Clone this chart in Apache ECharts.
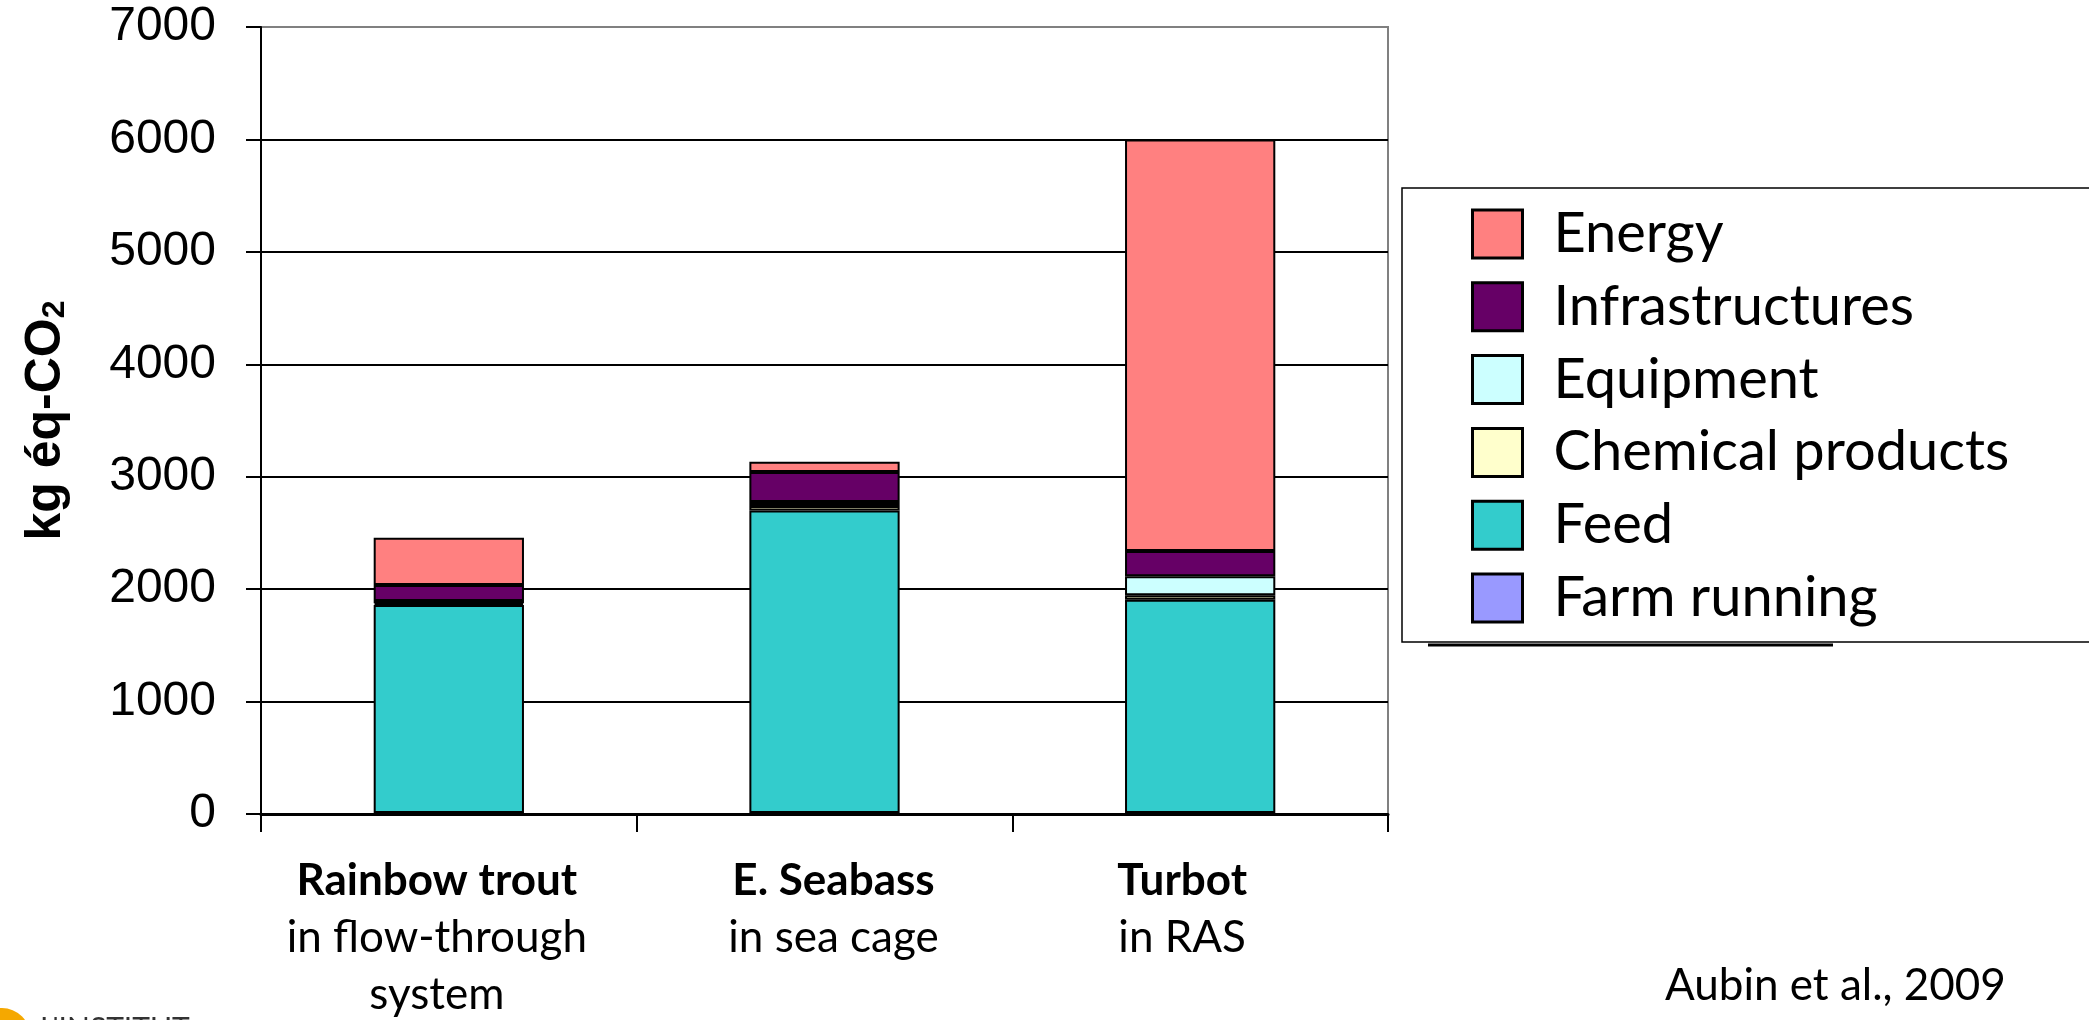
<!DOCTYPE html>
<html>
<head>
<meta charset="utf-8">
<script src="https://cdn.jsdelivr.net/npm/echarts@6/dist/echarts.min.js"></script>
<style>
  html, body { margin: 0; padding: 0; background: #fff; }
  #chart { width: 2089px; height: 1020px; }
</style>
</head>
<body>
<div id="chart"></div>
<script>
// Production systems (bold species name + system on following lines)
const speciesNames = ['Rainbow trout', 'E. Seabass', 'Turbot'];
const systemNames = ['in flow-through\nsystem', 'in sea cage', 'in RAS'];

// Climate change impact contributions, kg eq-CO2 per tonne of fish
const farmRunning   = [10, 10, 10];
const feed          = [1850, 2690, 1895];
const chemicals     = [15, 40, 40];
const equipment     = [20, 35, 170];
const infrastructures = [142, 268, 225];
const energy        = [420, 90, 3660];

const yTicks = { min: 0, max: 7000, step: 1000 };

const seriesDefs = [
  { name: 'Farm running', data: farmRunning, color: '#9999FF' },
  { name: 'Feed', data: feed, color: '#33CCCC' },
  { name: 'Chemical products', data: chemicals, color: '#FFFFCC' },
  { name: 'Equipment', data: equipment, color: '#CCFFFF' },
  { name: 'Infrastructures', data: infrastructures, color: '#660066' },
  { name: 'Energy', data: energy, color: '#FF8080' }
];
const legendOrder = ['Energy', 'Infrastructures', 'Equipment', 'Chemical products', 'Feed', 'Farm running'];

// small per-label horizontal nudges of the category captions
const labelPad = [[0, 24, 0, 0], [0, 0, 0, 18], [0, 36, 0, 0]];

const chart = echarts.init(document.getElementById('chart'));

const calibriLike = 'Lato, "Open Sans", sans-serif';
const arialLike = '"Liberation Sans", Arial, sans-serif';

chart.setOption({
  backgroundColor: '#fff',
  animation: false,
  grid: {
    left: 261, right: 701, top: 27, bottom: 206,
    show: true, borderColor: '#808080', borderWidth: 2, backgroundColor: 'transparent'
  },
  legend: {
    data: legendOrder,
    orient: 'vertical',
    left: 1471, top: 206,
    padding: 0,
    itemWidth: 50, itemHeight: 48, itemGap: 16.8,
    icon: 'rect',
    itemStyle: { borderColor: '#000', borderWidth: 3 },
    textStyle: { fontFamily: calibriLike, fontSize: 56, color: '#000', lineHeight: 48, padding: [0, 0, 0, 26] },
    selectedMode: false
  },
  xAxis: {
    type: 'category',
    data: speciesNames.map((s, i) => ({
      value: s,
      textStyle: { padding: labelPad[i] }
    })),
    axisLine: { lineStyle: { color: '#000', width: 3 } },
    axisTick: { show: true, length: 18, lineStyle: { color: '#000', width: 2 } },
    axisLabel: {
      margin: 38,
      interval: 0,
      formatter: (v, i) => '{b|' + v + '}\n' + systemNames[i].split('\n').map(t => '{n|' + t + '}').join('\n'),
      rich: {
        b: { fontFamily: calibriLike, fontWeight: 'bold', fontSize: 44, lineHeight: 57, color: '#000', align: 'center' },
        n: { fontFamily: calibriLike, fontSize: 44, lineHeight: 57, color: '#000', align: 'center' }
      }
    }
  },
  yAxis: {
    type: 'value',
    min: yTicks.min, max: yTicks.max, interval: yTicks.step,
    name: '{a|kg éq-CO}{s|2}',
    nameLocation: 'middle',
    nameRotate: 90,
    nameGap: 190,
    nameTextStyle: {
      rich: {
        a: { fontFamily: arialLike, fontWeight: 'bold', fontSize: 50, color: '#000' },
        s: { fontFamily: arialLike, fontWeight: 'bold', fontSize: 32, color: '#000', verticalAlign: 'bottom', padding: [16, 0, 0, 0] }
      }
    },
    axisLine: { show: true, lineStyle: { color: '#000', width: 2 } },
    axisTick: { show: true, length: 15, lineStyle: { color: '#000', width: 2 } },
    axisLabel: { fontFamily: arialLike, fontSize: 48, color: '#000', margin: 45, formatter: v => String(v) },
    splitLine: { lineStyle: { color: ['#000', '#000', '#000', '#000', '#000', '#000', '#000', '#808080'], width: 2 } }
  },
  series: seriesDefs.map(d => ({
    name: d.name,
    type: 'bar',
    stack: 'total',
    barWidth: '40%',
    data: d.data,
    itemStyle: { color: d.color, borderColor: '#000', borderWidth: 2 }
  })),
  graphic: [
    { type: 'rect', shape: { x: 1402, y: 188, width: 800, height: 454 }, style: { fill: 'none', stroke: '#000', lineWidth: 1.5 }, z: 0 },
    { type: 'line', shape: { x1: 1428, y1: 645, x2: 1833, y2: 645 }, style: { stroke: '#000', lineWidth: 3 } },
    { type: 'text', left: 1665, top: 964, style: { text: 'Aubin et al., 2009', fontFamily: calibriLike, fontSize: 44, fill: '#000' } },
    { type: 'circle', shape: { cx: 2, cy: 1036, r: 28 }, style: { fill: '#F5A800' } },
    { type: 'text', left: 40, top: 1014, style: { text: "L'INSTITUT", fontFamily: calibriLike, fontSize: 30, fill: '#333' } }
  ]
});
</script>
</body>
</html>
